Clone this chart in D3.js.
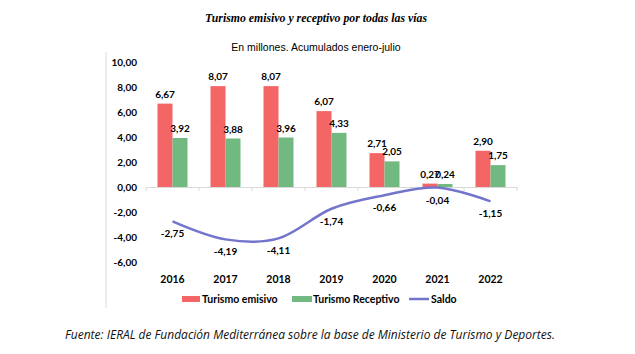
<!DOCTYPE html>
<html><head><meta charset="utf-8">
<script src="https://cdn.jsdelivr.net/npm/d3@7"></script>
<style>body{margin:0;background:#fff}svg{display:block}</style>
</head><body>
<script>
const years = ["2016","2017","2018","2019","2020","2021","2022"];
const emisivo = [6.67, 8.07, 8.07, 6.07, 2.71, 0.27, 2.90];
const receptivo = [3.92, 3.88, 3.96, 4.33, 2.05, 0.24, 1.75];
const saldo = [-2.75, -4.19, -4.11, -1.74, -0.66, -0.04, -1.15];
const yTicks = [10, 8, 6, 4, 2, 0, -2, -4, -6];
const seriesNames = ["Turismo emisivo", "Turismo Receptivo", "Saldo"];

const W = 635, H = 354;
const cRed = "#F46566", cGreen = "#71B981", cLine = "#7375CC";
const fmt = v => v.toFixed(2).replace(".", ",");
const lblFont = "Lato, 'Open Sans', sans-serif";

const svg = d3.select("body").append("svg").attr("width", W).attr("height", H);

svg.append("text").attr("x", 316).attr("y", 22).attr("text-anchor", "middle")
  .attr("font-family", "'Liberation Serif', 'Times New Roman', serif")
  .attr("font-weight", "bold").attr("font-style", "italic").attr("font-size", 11.8)
  .text("Turismo emisivo y receptivo por todas las vías");

svg.append("text").attr("x", 316).attr("y", 51).attr("text-anchor", "middle")
  .attr("font-family", "'Liberation Sans', Arial, sans-serif").attr("font-size", 10.5)
  .text("En millones. Acumulados enero-julio");

// left frame line
svg.append("line").attr("x1", 106).attr("x2", 106).attr("y1", 52).attr("y2", 308)
  .attr("stroke", "#d9d9d9").attr("stroke-width", 1);

const x = d3.scaleBand().domain(years).range([146, 517]).paddingInner(0).paddingOuter(0);
const y = d3.scaleLinear().domain([-6, 10]).range([262, 62]);
const barW = 15;

// y axis labels
const yAxis = d3.axisLeft(y).tickValues(yTicks).tickFormat(fmt).tickSize(0).tickPadding(0);
const gy = svg.append("g").attr("transform", "translate(137,0)").call(yAxis);
gy.select(".domain").remove();
gy.selectAll("text").attr("font-family", lblFont).attr("font-weight", "bold")
  .attr("font-size", 10).attr("fill", "#000").attr("dy", "0.35em");

// bars
const g = svg.append("g");
g.selectAll(".re").data(years).join("rect")
  .attr("x", d => x(d) + x.bandwidth()/2 - barW)
  .attr("y", (d,i) => y(emisivo[i]))
  .attr("width", barW).attr("height", (d,i) => y(0) - y(emisivo[i]))
  .attr("fill", cRed);
g.selectAll(".rr").data(years).join("rect")
  .attr("x", d => x(d) + x.bandwidth()/2)
  .attr("y", (d,i) => y(receptivo[i]))
  .attr("width", barW).attr("height", (d,i) => y(0) - y(receptivo[i]))
  .attr("fill", cGreen);

// x axis line with ticks at band boundaries
const xAxis = d3.axisBottom(x).tickSize(0).tickFormat("");
const gx = svg.append("g").attr("transform", `translate(0,${y(0)})`).call(xAxis);
gx.select(".domain").attr("stroke", "#d9d9d9");
const bounds = years.map(d => x(d)).concat([x(years[years.length-1]) + x.bandwidth()]);
gx.selectAll(".bt").data(bounds).join("line")
  .attr("x1", d => d).attr("x2", d => d).attr("y1", 0).attr("y2", 4)
  .attr("stroke", "#d9d9d9");

// year labels
svg.append("g").selectAll("text").data(years).join("text")
  .attr("x", d => x(d) + x.bandwidth()/2).attr("y", 283)
  .attr("text-anchor", "middle").attr("font-family", lblFont).attr("font-weight", "bold")
  .attr("font-size", 10.5).text(d => d);

// bar labels
svg.append("g").selectAll("text").data(years).join("text")
  .attr("x", d => x(d) + x.bandwidth()/2 - barW/2)
  .attr("y", (d,i) => y(emisivo[i]) - 6)
  .attr("text-anchor", "middle").attr("font-family", lblFont).attr("font-weight", "bold")
  .attr("font-size", 10).text((d,i) => fmt(emisivo[i]));
svg.append("g").selectAll("text").data(years).join("text")
  .attr("x", d => x(d) + x.bandwidth()/2 + barW/2)
  .attr("y", (d,i) => y(receptivo[i]) - 6)
  .attr("text-anchor", "middle").attr("font-family", lblFont).attr("font-weight", "bold")
  .attr("font-size", 10).text((d,i) => fmt(receptivo[i]));

// saldo line
const line = d3.line()
  .x((d,i) => x(years[i]) + x.bandwidth()/2)
  .y(d => y(d))
  .curve(d3.curveCardinal.tension(0));
svg.append("path").datum(saldo).attr("d", line)
  .attr("fill", "none").attr("stroke", cLine).attr("stroke-width", 2.5);

svg.append("g").selectAll("text").data(saldo).join("text")
  .attr("x", (d,i) => x(years[i]) + x.bandwidth()/2)
  .attr("y", d => y(d) + 16)
  .attr("text-anchor", "middle").attr("font-family", lblFont).attr("font-weight", "bold")
  .attr("font-size", 10).text(d => fmt(d));

// legend
const leg = svg.append("g").attr("font-family", lblFont).attr("font-weight", "bold").attr("font-size", 10.5);
leg.append("rect").attr("x", 182).attr("y", 296).attr("width", 18).attr("height", 6).attr("fill", cRed);
leg.append("text").attr("x", 202).attr("y", 302.5).text(seriesNames[0]);
leg.append("rect").attr("x", 292).attr("y", 296).attr("width", 20).attr("height", 6).attr("fill", cGreen);
leg.append("text").attr("x", 313).attr("y", 302.5).text(seriesNames[1]);
leg.append("line").attr("x1", 409).attr("x2", 429).attr("y1", 299).attr("y2", 299)
  .attr("stroke", cLine).attr("stroke-width", 2.5);
leg.append("text").attr("x", 431).attr("y", 302.5).text(seriesNames[2]);

// footer
svg.append("text").attr("x", 310).attr("y", 339).attr("text-anchor", "middle")
  .attr("font-family", "'Open Sans', 'Noto Sans', sans-serif").attr("font-style", "italic")
  .attr("font-size", 12).attr("fill", "#111")
  .text("Fuente: IERAL de Fundación Mediterránea sobre la base de Ministerio de Turismo y Deportes.");
</script>
</body></html>
